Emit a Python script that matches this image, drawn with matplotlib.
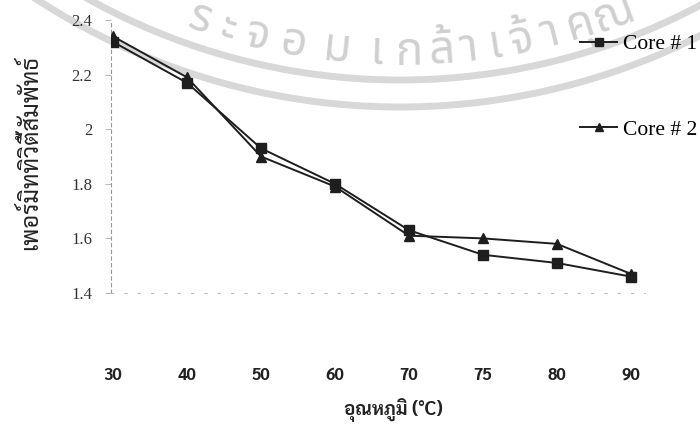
import matplotlib
matplotlib.use("Agg")
import matplotlib.pyplot as plt
from matplotlib.patches import Arc
import numpy as np

categories = ["30", "40", "50", "60", "70", "75", "80", "90"]
core1 = [2.32, 2.17, 1.93, 1.80, 1.63, 1.54, 1.51, 1.46]
core2 = [2.34, 2.19, 1.90, 1.79, 1.61, 1.60, 1.58, 1.47]
yticks = [1.4, 1.6, 1.8, 2.0, 2.2, 2.4]
ytick_labels = ["1.4", "1.6", "1.8", "2", "2.2", "2.4"]
ylabel = "เพอร์มิททิวิตี้สัมพัทธ์"
xlabel = "อุณหภูมิ (°C)"
watermark = ["ร", "ะ", "จ", "อ", "ม", "เ", "ก", "ล้", "า", "เ", "จ้", "า", "คุ", "ณ"]
watermark_x = [200, 228, 257, 293, 337, 377, 410, 442, 468, 495, 521, 550, 580, 614]

W, H = 700, 426
fig = plt.figure(figsize=(7.0, 4.26), dpi=100)

# watermark seal (figure pixel coords, y downward)
wax = fig.add_axes([0, 0, 1, 1], zorder=0)
wax.set_xlim(0, W)
wax.set_ylim(H, 0)
wax.axis("off")
cx, cy = 400, -560
for r in (640, 667):
    wax.add_patch(Arc((cx, cy), 2 * r, 2 * r, theta1=0, theta2=360, color="#d8d8d8", lw=5))
rt = 613
for ch, px in zip(watermark, watermark_x):
    phi = np.arcsin((px - cx) / rt)
    py = cy + rt * np.cos(phi)
    wax.text(px, py, ch, family=["Noto Sans Thai", "DejaVu Sans"], fontsize=33, color="#d0d0d0",
             rotation=np.degrees(phi), ha="center", va="center", rotation_mode="anchor")

ax = fig.add_axes([111 / W, 1 - 293 / H, 534 / W, 273 / H], zorder=2)
ax.patch.set_visible(False)

x = np.arange(len(categories))
ax.plot(x, core1, color="#1e1e1e", lw=1.4, marker="s", ms=7, label="Core # 1", zorder=5)
ax.plot(x, core2, color="#1e1e1e", lw=1.4, marker="^", ms=7.5, label="Core # 2", zorder=5)

ax.set_xlim(-0.027, 7.19)
ax.set_ylim(1.4, 2.4)
ax.set_yticks(yticks)
ax.set_yticklabels(ytick_labels, family="Liberation Serif", fontsize=12, color="#333333")
ax.set_xticks(x)
ax.set_xticklabels(categories, family=["Sarabun", "DejaVu Sans"], fontweight="bold",
                   fontsize=12, color="#222222")
ax.tick_params(axis="x", length=0, pad=53)
ax.tick_params(axis="y", length=4, width=0.6, color="#aaaaaa", direction="out", pad=9.5)
for s in ["top", "right"]:
    ax.spines[s].set_visible(False)
ax.spines["left"].set_linestyle((0, (3, 3)))
ax.spines["left"].set_color("#999999")
ax.spines["left"].set_linewidth(0.8)
ax.spines["bottom"].set_linestyle((0, (2, 10)))
ax.spines["bottom"].set_color("#bbbbbb")
ax.spines["bottom"].set_linewidth(0.8)

fig.text(393 / W, 1 - 410 / H, xlabel, family=["Sarabun", "DejaVu Sans"], fontsize=13.5,
         fontweight="bold", ha="center", va="center", color="#222222")
fig.text(30 / W, 1 - 152 / H, ylabel, rotation=90, family=["Sarabun", "DejaVu Sans"], fontsize=17,
         ha="center", va="center", color="#222222")

leg = fig.legend(loc="upper left", bbox_to_anchor=(580 / W, 1 - 34 / H), frameon=False,
                 prop={"family": "Liberation Serif", "size": 15.5}, labelspacing=3.05,
                 handlelength=1.72, handletextpad=0.28, markerscale=0.75,
                 borderpad=0, borderaxespad=0)

fig.savefig("out.png", dpi=100)
